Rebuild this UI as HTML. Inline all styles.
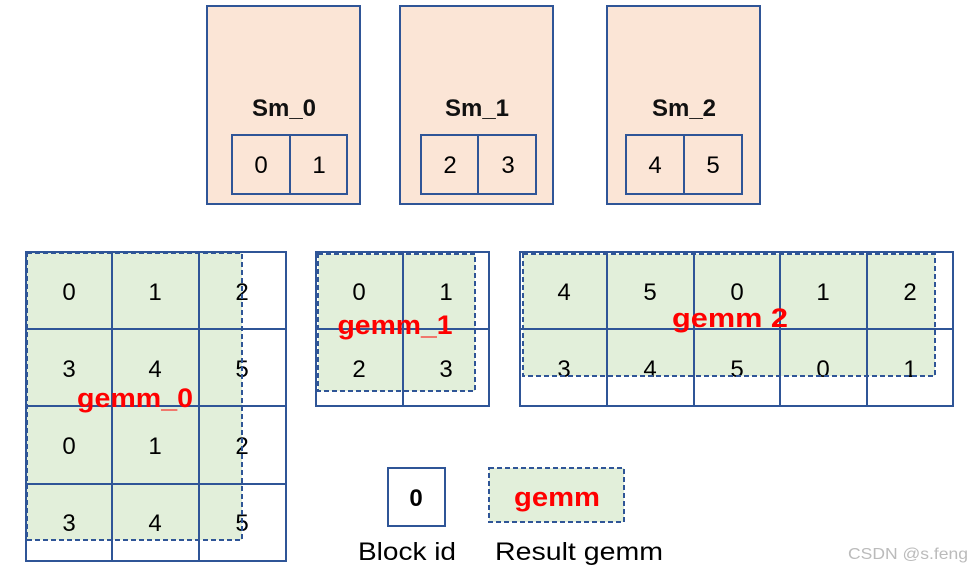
<!DOCTYPE html>
<html><head><meta charset="utf-8"><style>
html,body{margin:0;padding:0;background:#fff;width:973px;height:571px;overflow:hidden}
svg{display:block}
.n{font-family:"Liberation Sans",sans-serif;font-size:24px;fill:#000;text-anchor:middle}
.s{font-family:"Liberation Sans",sans-serif;font-size:24px;font-weight:bold;fill:#111;text-anchor:middle}
.g{font-family:"Liberation Sans",sans-serif;font-size:27px;font-weight:bold;fill:#ff0000;text-anchor:middle}
.l{font-family:"Liberation Sans","DejaVu Sans",sans-serif;font-size:25px;fill:#000;text-anchor:middle}
</style></head><body>
<svg width="973" height="571" viewBox="0 0 973 571" xmlns="http://www.w3.org/2000/svg">
<g stroke="#2f5597" stroke-width="2" fill="#fbe5d6">
<rect x="207" y="6" width="153" height="198"/>
<rect x="400" y="6" width="153" height="198"/>
<rect x="607" y="6" width="153" height="198"/>
<rect x="232" y="135" width="115" height="59" fill="none"/><line x1="290" y1="135" x2="290" y2="194"/>
<rect x="421" y="135" width="115" height="59" fill="none"/><line x1="478" y1="135" x2="478" y2="194"/>
<rect x="626" y="135" width="116" height="59" fill="none"/><line x1="684" y1="135" x2="684" y2="194"/>
</g>
<text class="s" x="284" y="116">Sm_0</text>
<text class="s" x="477" y="116">Sm_1</text>
<text class="s" x="684" y="116">Sm_2</text>
<text class="n" x="261" y="173">0</text><text class="n" x="319" y="173">1</text>
<text class="n" x="450" y="173">2</text><text class="n" x="508" y="173">3</text>
<text class="n" x="655" y="173">4</text><text class="n" x="713" y="173">5</text>

<g fill="#e2efda">
<rect x="27" y="253" width="215" height="287"/>
<rect x="318" y="254" width="157" height="137"/>
<rect x="523" y="254" width="412" height="122"/>
<rect x="489" y="468" width="135" height="54"/>
</g>
<g stroke="#2f5597" stroke-width="2" fill="none">
<rect x="26" y="252" width="260" height="309"/>
<line x1="112" y1="252" x2="112" y2="561"/><line x1="199" y1="252" x2="199" y2="561"/>
<line x1="26" y1="329" x2="286" y2="329"/><line x1="26" y1="406" x2="286" y2="406"/><line x1="26" y1="484" x2="286" y2="484"/>
<rect x="316" y="252" width="173" height="154"/>
<line x1="403" y1="252" x2="403" y2="406"/><line x1="316" y1="329" x2="489" y2="329"/>
<rect x="520" y="252" width="433" height="154"/>
<line x1="607" y1="252" x2="607" y2="406"/><line x1="694" y1="252" x2="694" y2="406"/>
<line x1="780" y1="252" x2="780" y2="406"/><line x1="867" y1="252" x2="867" y2="406"/>
<line x1="520" y1="329" x2="953" y2="329"/>
<rect x="388" y="468" width="57" height="58"/>
</g>
<g>
<text class="n" x="69" y="300">0</text><text class="n" x="155" y="300">1</text><text class="n" x="242" y="300">2</text>
<text class="n" x="69" y="377">3</text><text class="n" x="155" y="377">4</text><text class="n" x="242" y="377">5</text>
<text class="n" x="69" y="454">0</text><text class="n" x="155" y="454">1</text><text class="n" x="242" y="454">2</text>
<text class="n" x="69" y="531">3</text><text class="n" x="155" y="531">4</text><text class="n" x="242" y="531">5</text>
<text class="n" x="359" y="300">0</text><text class="n" x="446" y="300">1</text>
<text class="n" x="359" y="377">2</text><text class="n" x="446" y="377">3</text>
<text class="n" x="564" y="300">4</text><text class="n" x="650" y="300">5</text><text class="n" x="737" y="300">0</text><text class="n" x="823" y="300">1</text><text class="n" x="910" y="300">2</text>
<text class="n" x="564" y="377">3</text><text class="n" x="650" y="377">4</text><text class="n" x="737" y="377">5</text><text class="n" x="823" y="377">0</text><text class="n" x="910" y="377">1</text>
</g>
<g stroke="#2f5597" stroke-width="2" fill="none" stroke-dasharray="5,3">
<rect x="27" y="253" width="215" height="287"/>
<rect x="318" y="254" width="157" height="137"/>
<rect x="523" y="254" width="412" height="122"/>
<rect x="489" y="468" width="135" height="54"/>
</g>
<text class="g" x="135" y="407" textLength="116" lengthAdjust="spacingAndGlyphs">gemm_0</text>
<text class="g" x="395" y="334" textLength="115" lengthAdjust="spacingAndGlyphs">gemm_1</text>
<text class="g" x="730" y="327" textLength="116" lengthAdjust="spacingAndGlyphs">gemm 2</text>
<text class="g" x="557" y="506" textLength="86" lengthAdjust="spacingAndGlyphs">gemm</text>
<text class="s" x="416" y="506" style="fill:#000">0</text>
<text class="l" x="407" y="560" textLength="98" lengthAdjust="spacingAndGlyphs">Block id</text>
<text class="l" x="579" y="560" textLength="168" lengthAdjust="spacingAndGlyphs">Result gemm</text>
<text x="908" y="559" textLength="120" lengthAdjust="spacingAndGlyphs" style="font-family:'Liberation Sans',sans-serif;font-size:16px;fill:#bbb;text-anchor:middle">CSDN @s.feng</text>
</svg>
</body></html>
